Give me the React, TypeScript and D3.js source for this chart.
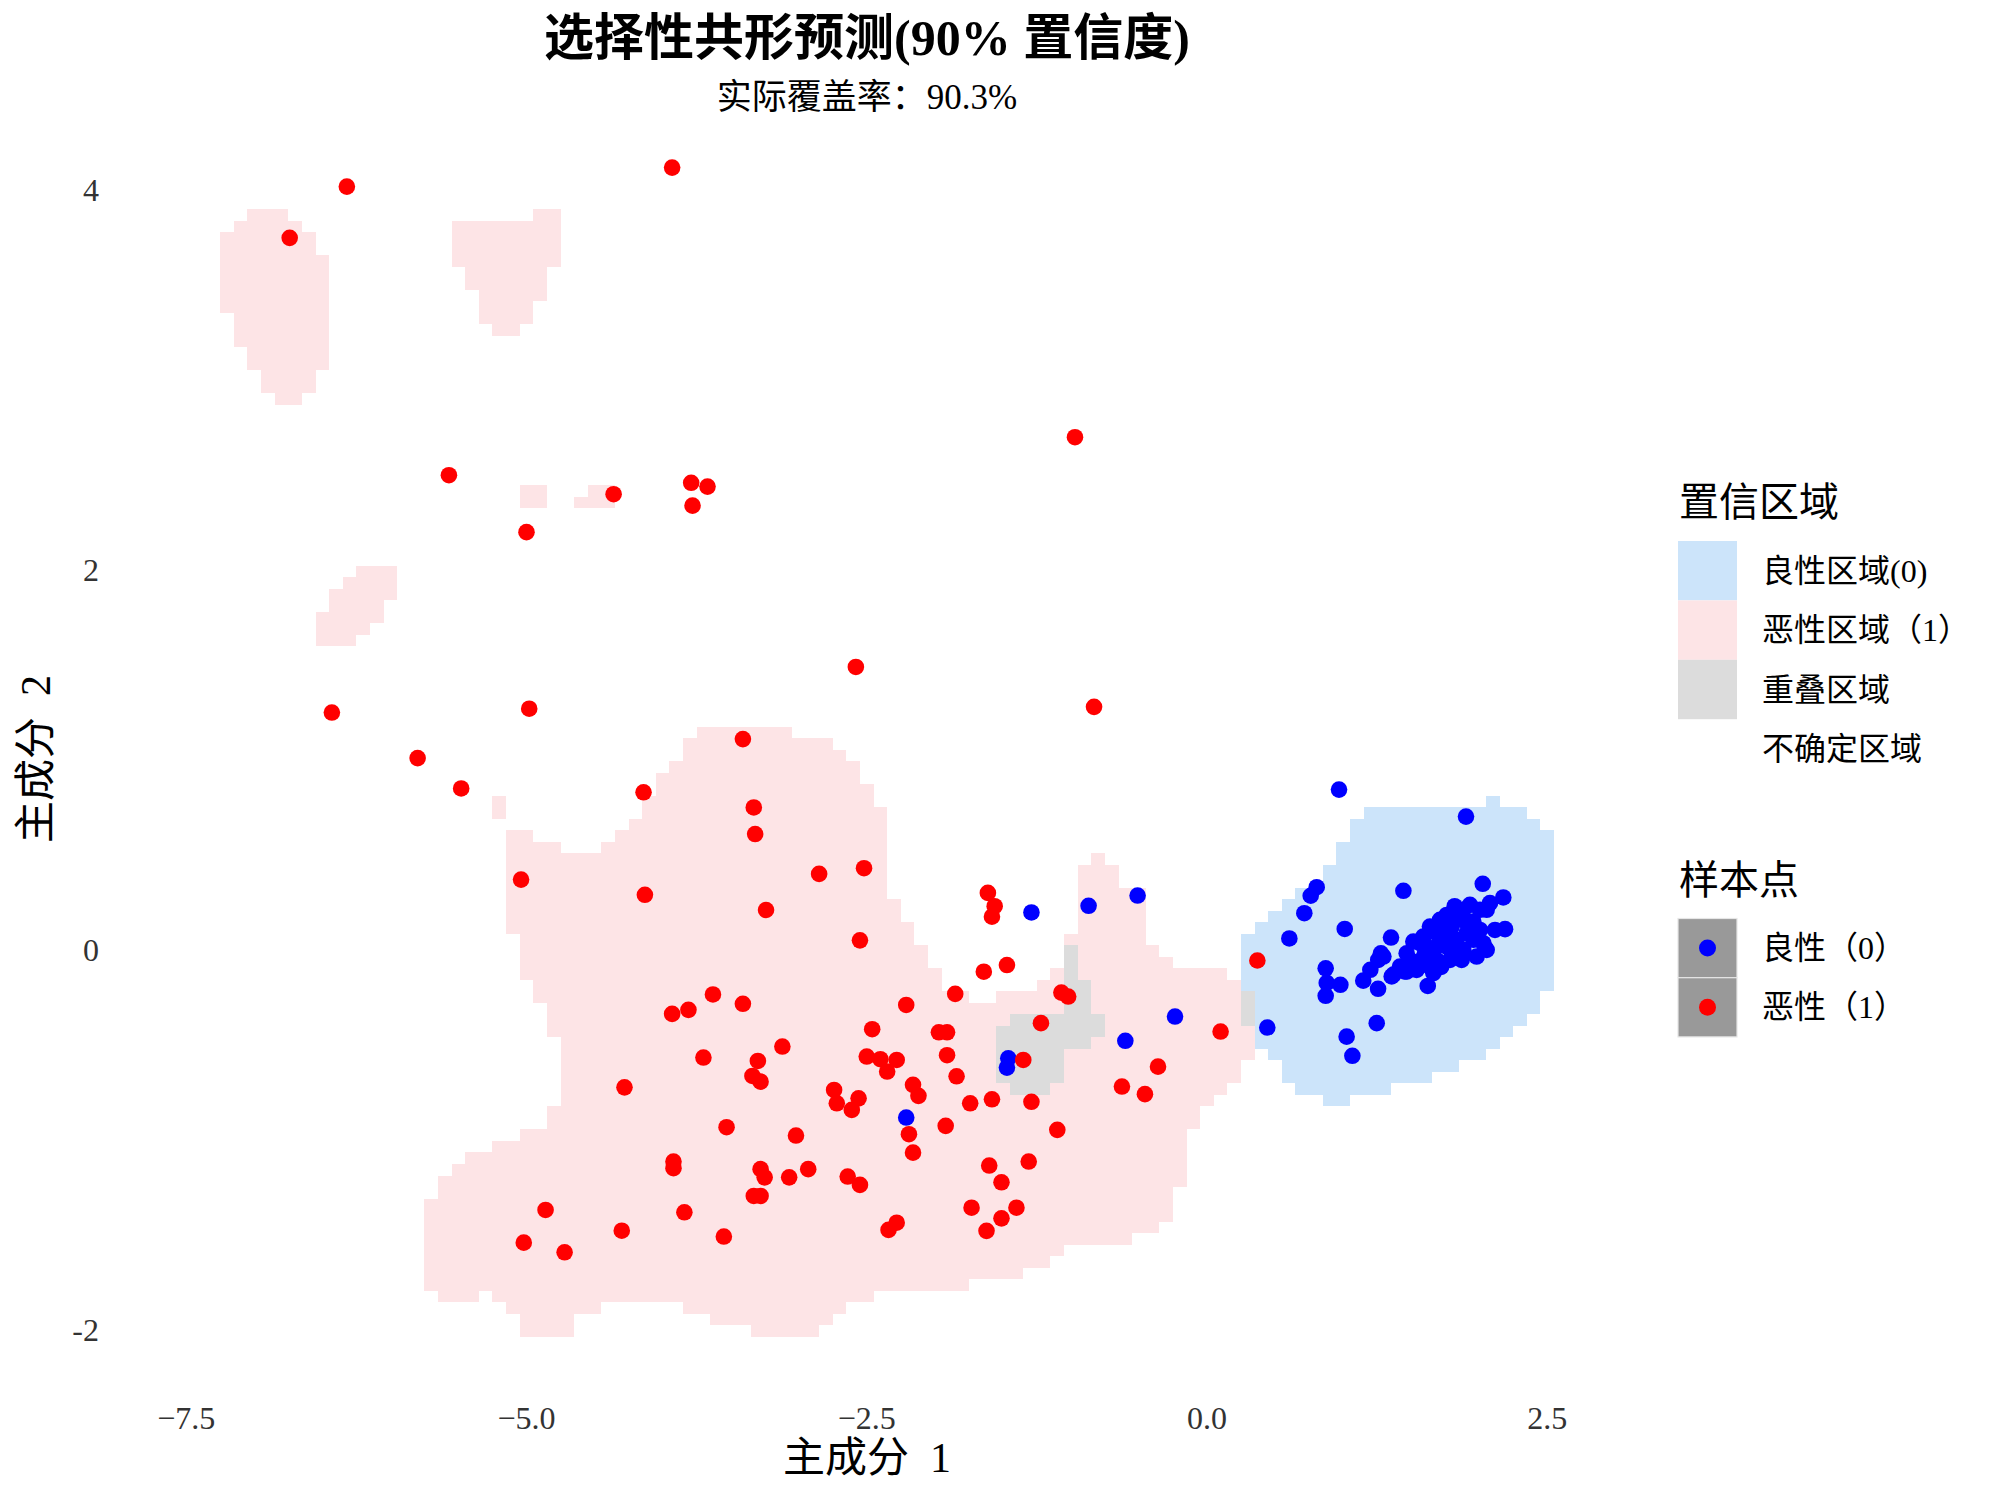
import React from 'react';
import * as d3 from 'd3';

// ---------- text ----------
const TITLE = '选择性共形预测(90% 置信度)';
const SUBTITLE = '实际覆盖率：90.3%';
const X_LABEL = '主成分\u20021';
const Y_LABEL = '主成分\u20022';
const REGION_LEGEND_TITLE = '置信区域';
const REGION_LABELS = ['良性区域(0)', '恶性区域（1）', '重叠区域', '不确定区域'];
const POINT_LEGEND_TITLE = '样本点';
const POINT_LABELS = ['良性（0）', '恶性（1）'];

const X_TICKS = [-7.5, -5.0, -2.5, 0.0, 2.5];
const Y_TICKS = [-2, 0, 2, 4];

// ---------- prediction grid (cell boundaries) ----------
const GRID_X0 = -7.25;
const GRID_DX = 0.1;
const GRID_Y0 = 0.0236;
const GRID_DY = 0.0606;

// [row, colStart, colEnd) runs of grid cells
const MALIGNANT_ROWS: [number, number, number][] = [
  // upper-left blob
  [63, 2, 5], [62, 1, 6], [61, 0, 7], [60, 0, 7], [59, 0, 8], [58, 0, 8], [57, 0, 8], [56, 0, 8],
  [55, 0, 8], [54, 1, 8], [53, 1, 8], [52, 1, 8], [51, 2, 8], [50, 2, 8], [49, 3, 7], [48, 3, 7], [47, 4, 6],
  // upper-middle blob
  [63, 23, 25], [62, 17, 25], [61, 17, 25], [60, 17, 25], [59, 17, 25], [58, 18, 24], [57, 18, 24],
  [56, 19, 24], [55, 19, 23], [54, 19, 23], [53, 20, 22],
  // small pieces
  [39, 22, 24], [38, 22, 24], [39, 27, 29], [38, 26, 29],
  [32, 10, 13], [31, 9, 13], [30, 8, 13], [29, 8, 12], [28, 7, 12], [27, 7, 11], [26, 7, 10],
  [12, 20, 21], [11, 20, 21],
  // main region
  [18, 35, 42], [17, 34, 45], [16, 34, 46], [15, 33, 47], [14, 32, 47], [13, 32, 48], [12, 31, 48],
  [11, 31, 49], [10, 30, 49],
  [9, 21, 23], [9, 29, 49], [8, 21, 25], [8, 28, 49],
  [7, 21, 49], [7, 64, 65], [6, 21, 49], [6, 63, 66], [5, 21, 49], [5, 63, 66], [4, 21, 49], [4, 63, 68],
  [3, 21, 50], [3, 63, 68], [2, 21, 50], [2, 63, 68], [1, 21, 51], [1, 63, 68], [0, 22, 51], [0, 62, 68],
  [-1, 22, 52], [-1, 62, 69], [-2, 22, 52], [-2, 62, 70], [-3, 22, 53], [-3, 61, 74],
  [-4, 23, 53], [-4, 60, 75], [-5, 23, 55], [-5, 57, 75],
  [-6, 24, 75], [-7, 24, 75], [-8, 24, 76], [-9, 25, 76], [-10, 25, 76], [-11, 25, 75], [-12, 25, 75],
  [-13, 25, 74], [-14, 25, 73], [-15, 24, 72], [-16, 24, 72], [-17, 22, 71], [-18, 20, 71], [-19, 18, 71],
  [-20, 17, 71], [-21, 16, 71], [-22, 16, 70], [-23, 15, 70], [-24, 15, 70], [-25, 15, 69], [-26, 15, 67],
  [-27, 15, 62], [-28, 15, 61], [-29, 15, 59], [-30, 15, 55],
  [-31, 16, 19], [-31, 20, 48], [-32, 21, 28], [-32, 34, 46], [-33, 22, 26], [-33, 36, 45],
  [-34, 22, 26], [-34, 39, 44],
];

const BENIGN_ROWS: [number, number, number][] = [
  [12, 93, 94], [11, 84, 96], [10, 83, 97], [9, 83, 98], [8, 82, 98], [7, 82, 98], [6, 81, 98], [5, 81, 98],
  [4, 79, 98], [3, 78, 98], [2, 77, 98], [1, 76, 98], [0, 75, 98], [-1, 75, 98], [-2, 75, 98], [-3, 75, 98],
  [-4, 75, 98], [-5, 76, 97], [-6, 76, 97], [-7, 76, 96], [-8, 76, 95], [-9, 76, 94], [-10, 77, 93],
  [-11, 78, 91], [-12, 78, 89], [-13, 79, 86], [-14, 81, 83],
];

const OVERLAP_ROWS: [number, number, number][] = [
  [-1, 62, 63], [-2, 62, 63], [-3, 62, 63], [-4, 62, 64], [-5, 62, 64], [-6, 62, 64],
  [-7, 58, 65], [-8, 57, 65], [-9, 57, 64], [-10, 57, 62], [-11, 57, 62], [-12, 57, 62], [-13, 58, 61],
  [-5, 75, 76], [-6, 75, 76], [-7, 75, 76],
];

// ---------- sample points ----------
const BENIGN_POINTS: [number, number][] = [
  [-1.29, 0.197], [-0.87, 0.232], [-0.51, 0.286], [-0.235, -0.351], [-0.6, -0.479], [-1.46, -0.571],
  [-1.47, -0.62], [-2.21, -0.883], [0.443, -0.409], [0.97, 0.844], [1.903, 0.702], [0.806, 0.33],
  [0.762, 0.285], [0.715, 0.193], [0.605, 0.06], [1.012, 0.11], [1.443, 0.311], [2.026, 0.348],
  [2.177, 0.276], [2.116, 0.105], [2.19, 0.109], [2.043, 0.012], [1.352, 0.065], [0.872, -0.097],
  [0.88, -0.174], [0.98, -0.184], [0.872, -0.242], [1.148, -0.162], [1.2, -0.105], [1.257, -0.205],
  [1.278, -0.018], [1.258, -0.053], [1.357, -0.14], [1.467, -0.114], [1.622, -0.19], [1.247, -0.386],
  [1.026, -0.457], [1.068, -0.558], [1.296, -0.035], [1.37, -0.13],
  [1.467, -0.018], [1.516, 0.044], [1.577, -0.053], [1.638, -0.088], [1.663, 0.0], [1.687, 0.088],
  [1.712, 0.158], [1.761, 0.184], [1.798, 0.123], [1.834, 0.053], [1.859, -0.035], [1.883, 0.211],
  [1.932, 0.237], [1.957, 0.149], [2.006, 0.105], [2.03, 0.035], [2.055, 0.211], [1.908, 0.088],
  [1.761, 0.017], [1.614, 0.017], [1.565, 0.035], [1.491, -0.053], [1.418, -0.088], [1.455, -0.114],
  [1.663, -0.123], [1.785, -0.053], [1.871, -0.053], [1.54, -0.106], [1.736, 0.105], [1.834, 0.175],
  [1.638, 0.123], [1.761, 0.07], [1.957, 0.053], [1.883, 0.0], [1.687, -0.053], [1.589, 0.07],
  [2.006, 0.211], [1.981, -0.035], [2.055, 0.0], [2.079, 0.246], [1.71, 0.05], [1.8, 0.0],
  [1.6, -0.02], [1.9, 0.15], [1.72, -0.09], [1.82, 0.23],
];

const MALIGNANT_POINTS: [number, number][] = [
  [-3.93, 4.12], [-6.32, 4.02], [-6.74, 3.75], [-0.97, 2.7], [-5.57, 2.5], [-4.36, 2.4], [-3.79, 2.46],
  [-3.67, 2.44], [-3.78, 2.34], [-5.0, 2.2], [-2.58, 1.49], [-0.83, 1.28], [-6.43, 1.25], [-4.98, 1.27],
  [-5.8, 1.01], [-5.48, 0.85], [-3.41, 1.11], [-4.14, 0.83], [-3.33, 0.75], [-3.32, 0.61], [-5.04, 0.37],
  [-4.13, 0.29], [-2.85, 0.4], [-2.52, 0.43], [-3.24, 0.21], [-2.55, 0.05], [-1.61, 0.3], [-1.56, 0.23],
  [-1.58, 0.175], [-1.47, -0.08], [-1.64, -0.115], [-1.07, -0.225], [-1.02, -0.246], [0.37, -0.056],
  [0.1, -0.43], [-1.22, -0.386], [-0.36, -0.615], [-0.625, -0.72], [-0.456, -0.76], [-1.85, -0.232],
  [-2.21, -0.29], [-3.63, -0.235], [-3.93, -0.337], [-3.81, -0.316], [-3.41, -0.284], [-2.46, -0.418],
  [-1.97, -0.434], [-1.91, -0.434], [-1.91, -0.555], [-1.84, -0.666], [-3.12, -0.509], [-3.7, -0.567],
  [-3.3, -0.585], [-3.34, -0.664], [-3.28, -0.694], [-4.28, -0.724], [-2.5, -0.562], [-2.4, -0.576],
  [-2.28, -0.58], [-2.35, -0.641], [-2.16, -0.711], [-2.12, -0.769], [-2.74, -0.738], [-2.72, -0.808],
  [-2.56, -0.782], [-2.61, -0.843], [-1.74, -0.808], [-1.58, -0.787], [-1.29, -0.8], [-1.35, -0.58],
  [-2.19, -0.971], [-2.16, -1.068], [-1.92, -0.927], [-1.1, -0.948], [-1.6, -1.136], [-1.51, -1.224],
  [-1.31, -1.115], [-1.73, -1.358], [-1.51, -1.414], [-1.4, -1.358], [-1.62, -1.48], [-2.34, -1.475],
  [-2.28, -1.437], [-3.53, -0.934], [-3.02, -0.978], [-3.92, -1.115], [-3.92, -1.15], [-3.28, -1.155],
  [-3.25, -1.198], [-3.07, -1.198], [-2.93, -1.155], [-2.64, -1.194], [-2.55, -1.238], [-3.33, -1.296],
  [-3.28, -1.296], [-4.86, -1.37], [-3.84, -1.382], [-4.3, -1.479], [-3.55, -1.51], [-5.02, -1.542],
  [-4.72, -1.593],
];

// ---------- styling ----------
const COLOR_BENIGN_REGION = '#cce4fa';
const COLOR_MALIGNANT_REGION = '#fde4e6';
const COLOR_OVERLAP_REGION = '#dcdcdc';
const COLOR_BENIGN_POINT = '#0000ff';
const COLOR_MALIGNANT_POINT = '#ff0000';
const FONT = "'Liberation Serif', 'Noto Sans CJK SC', serif";

export default function App() {
  const W = 2000;
  const H = 1500;
  const x = d3.scaleLinear().domain([-7.5, 2.5]).range([186.25, 1547.25]);
  const y = d3.scaleLinear().domain([-2, 4]).range([1329.6, 190.4]);

  const gx = (c: number) => x(GRID_X0 + c * GRID_DX);
  const gy = (r: number) => y(GRID_Y0 + r * GRID_DY);

  const cells = (rows: [number, number, number][], fill: string, key: string) =>
    rows.map(([r, c0, c1], i) => (
      <rect
        key={key + i}
        x={gx(c0)}
        y={gy(r + 1)}
        width={gx(c1) - gx(c0)}
        height={gy(r) - gy(r + 1)}
        fill={fill}
        shapeRendering="crispEdges"
      />
    ));

  const regionColors = [COLOR_BENIGN_REGION, COLOR_MALIGNANT_REGION, COLOR_OVERLAP_REGION, 'none'];

  return (
    <svg
      width={W}
      height={H}
      viewBox={`0 0 ${W} ${H}`}
      style={{ position: 'absolute', left: 0, top: 0, background: '#fff' }}
      fontFamily={FONT}
    >
      <rect x={0} y={0} width={W} height={H} fill="#fff" />
      <g>
        {cells(MALIGNANT_ROWS, COLOR_MALIGNANT_REGION, 'm')}
        {cells(BENIGN_ROWS, COLOR_BENIGN_REGION, 'b')}
        {cells(OVERLAP_ROWS, COLOR_OVERLAP_REGION, 'o')}
      </g>
      <g>
        {BENIGN_POINTS.map(([px, py], i) => (
          <circle key={'bp' + i} cx={x(px)} cy={y(py)} r={8.3} fill={COLOR_BENIGN_POINT} />
        ))}
        {MALIGNANT_POINTS.map(([px, py], i) => (
          <circle key={'mp' + i} cx={x(px)} cy={y(py)} r={8.3} fill={COLOR_MALIGNANT_POINT} />
        ))}
      </g>
      {/* axes */}
      <g fill="#333" fontSize={32}>
        {X_TICKS.map((t) => (
          <text key={'xt' + t} x={x(t)} y={1418} textAnchor="middle" dominantBaseline="central">
            {d3.format('.1f')(t)}
          </text>
        ))}
        {Y_TICKS.map((t) => (
          <text key={'yt' + t} x={99} y={y(t)} textAnchor="end" dominantBaseline="central">
            {String(t)}
          </text>
        ))}
      </g>
      <text x={867} y={1458} fontSize={42} textAnchor="middle" dominantBaseline="central" fill="#000">
        {X_LABEL}
      </text>
      <text
        transform="translate(36,759) rotate(-90)"
        fontSize={42}
        textAnchor="middle"
        dominantBaseline="central"
        fill="#000"
      >
        {Y_LABEL}
      </text>
      {/* titles */}
      <text x={867} y={38} fontSize={50} fontWeight="bold" textAnchor="middle" dominantBaseline="central">
        {TITLE}
      </text>
      <text x={867} y={97} fontSize={35} textAnchor="middle" dominantBaseline="central">
        {SUBTITLE}
      </text>
      {/* legend: regions */}
      <text x={1679} y={502} fontSize={40} dominantBaseline="central">
        {REGION_LEGEND_TITLE}
      </text>
      {REGION_LABELS.map((lab, i) => (
        <g key={'rl' + i}>
          <rect x={1678} y={541 + i * 59.4} width={59} height={59.4} fill={regionColors[i]} />
          <text x={1762} y={541 + i * 59.4 + 29.7} fontSize={32} dominantBaseline="central">
            {lab}
          </text>
        </g>
      ))}
      {/* legend: points */}
      <text x={1679} y={880} fontSize={40} dominantBaseline="central">
        {POINT_LEGEND_TITLE}
      </text>
      {POINT_LABELS.map((lab, i) => (
        <g key={'pl' + i}>
          <rect x={1678} y={918.5 + i * 59.2} width={59} height={59.2} fill="#999999" stroke="#e6e6e6" strokeWidth={1.2} />
          <circle
            cx={1707.5}
            cy={918.5 + i * 59.2 + 29.6}
            r={8.5}
            fill={i === 0 ? COLOR_BENIGN_POINT : COLOR_MALIGNANT_POINT}
          />
          <text x={1762} y={918.5 + i * 59.2 + 29.6} fontSize={32} dominantBaseline="central">
            {lab}
          </text>
        </g>
      ))}
    </svg>
  );
}
